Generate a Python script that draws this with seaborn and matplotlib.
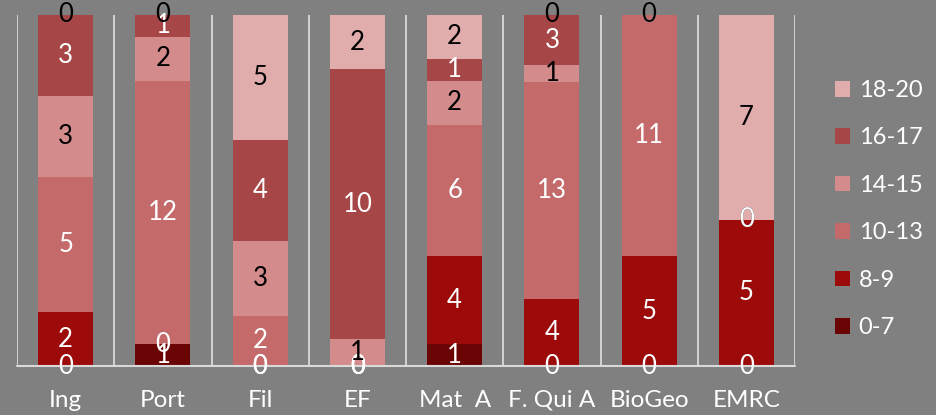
import numpy as np
import pandas as pd
import matplotlib
matplotlib.use("Agg")
import matplotlib.pyplot as plt
import seaborn as sns
from matplotlib.patches import Patch

categories = ["Ing", "Port", "Fil", "EF", "Mat  A", "F. Qui A", "BioGeo", "EMRC"]
series_names = ["0-7", "8-9", "10-13", "14-15", "16-17", "18-20"]
s_0_7 = [0, 1, 0, 0, 1, 0, 0, 0]
s_8_9 = [2, 0, 0, 0, 4, 4, 5, 5]
s_10_13 = [5, 12, 2, 0, 6, 13, 11, 0]
s_14_15 = [3, 2, 3, 1, 2, 1, 0, 0]
s_16_17 = [3, 1, 4, 10, 1, 3, 0, 0]
s_18_20 = [0, 0, 5, 2, 2, 0, 0, 7]

series_values = [s_0_7, s_8_9, s_10_13, s_14_15, s_16_17, s_18_20]
colors = ["#6B0404", "#9C0A0A", "#C46A6A", "#D48B8B", "#A64646", "#E0ACAC"]
label_colors = ["white", "white", "white", "black", "white", "black"]

sns.set_theme(style="white")
plt.rcParams["font.family"] = ["Lato", "DejaVu Sans"]

bg = "#808080"
fig = plt.figure(figsize=(9.36, 4.15), dpi=100, facecolor=bg)
ax = fig.add_axes([17 / 936, 49 / 415, (795 - 17) / 936, (366 - 15) / 415])
ax.set_facecolor(bg)

vals = np.array(series_values, dtype=float)  # shape (6, 8)
totals = vals.sum(axis=0)
props = vals / totals
cum = np.cumsum(props, axis=0)
base = cum - props

# draw cumulative layers, tallest first
for k in range(len(series_names) - 1, -1, -1):
    df = pd.DataFrame({"cat": categories, "v": cum[k]})
    sns.barplot(data=df, x="cat", y="v", order=categories, color=colors[k],
                saturation=1, width=0.565, ax=ax, errorbar=None, zorder=2,
                linewidth=0, edgecolor="none")

# gridlines at category boundaries
for xb in np.arange(-0.5, len(categories), 1.0):
    ax.axvline(xb, color="#D9D9D9", lw=1.3, zorder=1)
ax.axhline(0, color="#D9D9D9", lw=1.5, zorder=3, clip_on=False)

# data labels
for k in range(len(series_names)):
    for i in range(len(categories)):
        y = base[k, i] + props[k, i] / 2
        ax.text(i, y, f"{int(vals[k, i])}", ha="center", va="center",
                color=label_colors[k], fontsize=18.5, zorder=5, clip_on=False)

ax.set_xlim(-0.5, len(categories) - 0.5)
ax.set_ylim(0, 1)
ax.set_yticks([])
ax.set_xlabel("")
ax.set_ylabel("")
for s in ax.spines.values():
    s.set_visible(False)
ax.tick_params(axis="x", length=0, pad=17, labelsize=17.5, labelcolor="white")

handles = [Patch(facecolor=colors[k], edgecolor="none", label=series_names[k])
           for k in range(len(series_names) - 1, -1, -1)]
leg = fig.legend(handles=handles, loc="upper left", bbox_to_anchor=(835 / 936, 1 - 80 / 415),
                 frameon=False, fontsize=17, labelcolor="white",
                 handlelength=0.65, handleheight=0.65, handletextpad=0.35,
                 labelspacing=1.12, borderpad=0, borderaxespad=0)

fig.savefig("out.png", dpi=100, facecolor=bg)
